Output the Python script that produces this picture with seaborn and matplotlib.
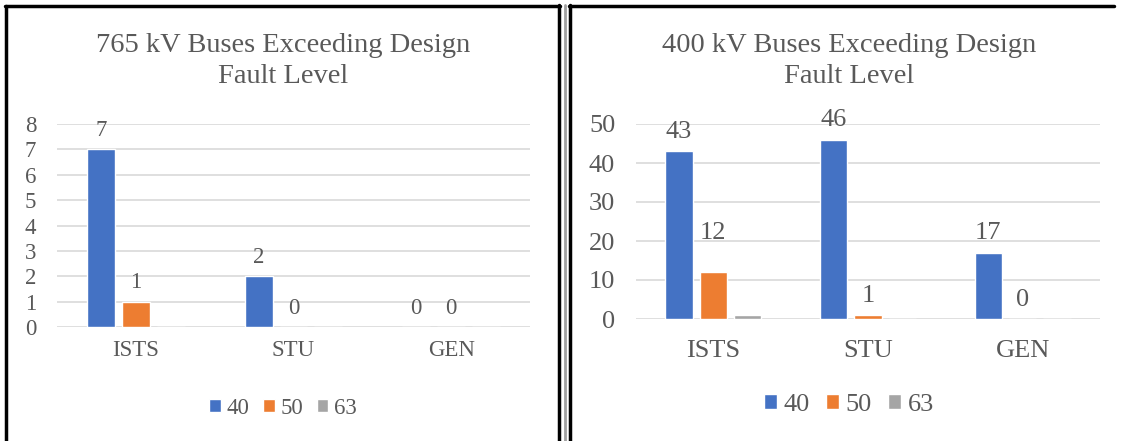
import pandas as pd
import matplotlib.pyplot as plt
from matplotlib.lines import Line2D
import seaborn as sns

# data
categories = ["ISTS", "STU", "GEN"]
series = ["40", "50", "63"]
kv765_40 = [7, 2, 0]
kv765_50 = [1, 0, 0]
kv765_63 = [0, 0, 0]
kv400_40 = [43, 46, 17]
kv400_50 = [12, 1, 0]
kv400_63 = [1, 0, 0]

colors = ["#4472C4", "#ED7D31", "#A5A5A5"]
txt = "#595959"


def long_df(a, b, c):
    rows = []
    for s, vals in zip(series, [a, b, c]):
        for cat, v in zip(categories, vals):
            rows.append({"cat": cat, "series": s, "val": v})
    return pd.DataFrame(rows)


sns.set_style("white")
plt.rcParams["font.family"] = ["Liberation Serif", "DejaVu Serif"]

W, H = 1124, 441
fig = plt.figure(figsize=(W / 100, H / 100), dpi=100)


def px_ax(x0, x1, ytop, ybot):
    return fig.add_axes([x0 / W, 1 - ybot / H, (x1 - x0) / W, (ybot - ytop) / H])


ax1 = px_ax(57, 530, 124, 327)
ax2 = px_ax(636, 1100, 124, 319)

# axes, data, title, ymax, step, font size, title x (px), legend y (px), x tick pad
panels = [
    (ax1, long_df(kv765_40, kv765_50, kv765_63), "765 kV Buses Exceeding Design\nFault Level", 8, 1, 16.5, 283, 408, 9),
    (ax2, long_df(kv400_40, kv400_50, kv400_63), "400 kV Buses Exceeding Design\nFault Level", 50, 10, 19, 849, 405, 15),
]

for ax, df, title, ymax, step, fs, tx, ly, xpad in panels:
    sns.barplot(data=df, x="cat", y="val", hue="series", hue_order=series,
                palette=colors, width=0.665, gap=0.2, saturation=1, ax=ax)
    ax.set_ylim(0, ymax)
    ax.set_yticks(range(0, ymax + 1, step))
    ax.yaxis.grid(True, color="#D9D9D9", linewidth=1.2)
    ax.set_axisbelow(True)
    for sp in ax.spines.values():
        sp.set_visible(False)
    ax.tick_params(axis="both", length=0, labelsize=fs, labelcolor=txt)
    ax.tick_params(axis="x", pad=xpad)
    ax.tick_params(axis="y", pad=15)
    ax.set_xlabel("")
    ax.set_ylabel("")
    fig.text(tx / W, 1 - 61 / H, title, ha="center", va="center", fontsize=20.5,
             color=txt, linespacing=1.35)
    # labels for first two series only
    labs = []
    for cont in ax.containers[:2]:
        labs.append(ax.bar_label(cont, fontsize=fs, color=txt, padding=6))
    leg = ax.legend(loc="center", ncol=3, frameon=False,
                    fontsize=fs, handlelength=0.5, handleheight=0.5,
                    handletextpad=0.25, columnspacing=0.6)
    leg.set_bbox_to_anchor((tx / W, 1 - ly / H), transform=fig.transFigure)
    for t in leg.get_texts():
        t.set_color(txt)

# the "12" label sits higher in the source chart
labs[1][0].xyann = (0, 20)

# panel frames
def fline(xs, ys, color="black", lw=2.5):
    fig.add_artist(Line2D([x / W for x in xs], [1 - y / H for y in ys],
                          color=color, linewidth=lw, transform=fig.transFigure))

fline([6, 6], [6, H])
fline([5, 560], [6, 6])
fline([559, 559], [5, H])
fline([564.5, 564.5], [5, H], color="#A0A0A0", lw=2)
fline([570, 570], [5, H])
fline([569, 1114], [6, 6])

fig.savefig("out.png", dpi=100)
